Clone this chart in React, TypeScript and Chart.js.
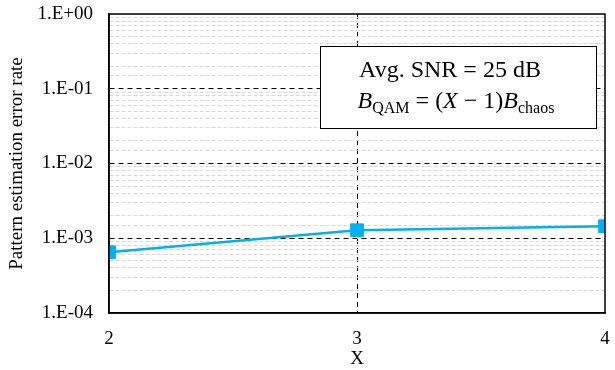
import React, { useEffect, useRef } from "react";
import { Chart, registerables } from "chart.js";

Chart.register(...registerables);

const xValues = [2, 3, 4];
const errorRates = [6.5e-4, 1.28e-3, 1.45e-3];
const xTicks = [2, 3, 4];
const yTitle = "Pattern estimation error rate";
const xTitle = "X";
const boxLine1 = "Avg. SNR = 25 dB";

const isDecade = (v: number) => Math.abs(Math.log10(v) - Math.round(Math.log10(v))) < 1e-6;
const fmtDecade = (v: number) => {
  const e = Math.round(Math.log10(v));
  const s = Math.abs(e).toString().padStart(2, "0");
  return "1.E" + (e < 0 ? "-" : "+") + s;
};

const SERIF = "'Liberation Serif', 'Times New Roman', serif";

const framePlugin = {
  id: "frameAndBox",
  afterDraw(chart: any) {
    const { ctx, chartArea } = chart;
    ctx.save();
    ctx.strokeStyle = "#000";
    ctx.lineWidth = 1.5;
    ctx.setLineDash([]);
    ctx.strokeRect(chartArea.left, chartArea.top, chartArea.right - chartArea.left, chartArea.bottom - chartArea.top);

    // annotation box
    const bx = 320, by = 46, bw = 276, bh = 82;
    ctx.fillStyle = "#fff";
    ctx.fillRect(bx, by, bw, bh);
    ctx.lineWidth = 1;
    ctx.strokeRect(bx + 0.5, by + 0.5, bw, bh);

    ctx.fillStyle = "#000";
    ctx.textBaseline = "alphabetic";
    ctx.textAlign = "left";
    ctx.font = `24px ${SERIF}`;
    const w1 = ctx.measureText(boxLine1).width;
    ctx.fillText(boxLine1, 450 - w1 / 2, 77);

    // formula line
    const parts: [string, string, number][] = [
      ["B", "italic 24px", 0],
      ["QAM", "16px", 5],
      [" = (", "24px", 0],
      ["X", "italic 24px", 0],
      [" \u2212 1)", "24px", 0],
      ["B", "italic 24px", 0],
      ["chaos", "16px", 5],
    ];
    let total = 0;
    for (const [t, f] of parts) {
      ctx.font = `${f} ${SERIF}`;
      total += ctx.measureText(t).width;
    }
    let x = 456 - total / 2;
    for (const [t, f, dy] of parts) {
      ctx.font = `${f} ${SERIF}`;
      ctx.fillText(t, x, 108 + dy);
      x += ctx.measureText(t).width;
    }
    ctx.restore();
  },
};

export default function App() {
  const ref = useRef<HTMLCanvasElement>(null);
  useEffect(() => {
    if (!ref.current) return;
    const chart = new Chart(ref.current, {
      type: "line",
      data: {
        datasets: [
          {
            data: xValues.map((x, i) => ({ x, y: errorRates[i] })),
            borderColor: "#00B0F0",
            backgroundColor: "#00B0F0",
            borderWidth: 2.5,
            pointStyle: "rect",
            pointRadius: 9,
            pointBorderWidth: 1,
            pointBorderColor: "#00B0F0",
            pointBackgroundColor: "#00B0F0",
            tension: 0,
          },
        ],
      },
      options: {
        animation: false,
        responsive: false,
        maintainAspectRatio: false,
        layout: { padding: { top: 0, right: 2, left: 0, bottom: 0 } },
        plugins: { legend: { display: false }, tooltip: { enabled: false } },
        scales: {
          x: {
            type: "linear",
            min: 2,
            max: 4,
            afterBuildTicks: (scale: any) => {
              scale.ticks = xTicks.map((v) => ({ value: v }));
            },
            afterFit: (scale: any) => {
              scale.height = 57;
              scale.paddingRight = 0;
              scale.paddingLeft = 0;
            },
            ticks: {
              font: { family: SERIF, size: 19 },
              color: "#000",
              padding: 15,
              maxRotation: 0,
            },
            grid: {
              drawTicks: false,
              color: (c: any) => (c.tick && (c.tick.value === 2 || c.tick.value === 4) ? "rgba(0,0,0,0)" : "#000"),
              lineWidth: 1,
            },
            border: {
              display: true,
              color: "#000",
              width: 1.5,
              dash: (c: any) => (c.tick ? [5, 4] : []),
            },
            title: {
              display: true,
              text: xTitle,
              font: { family: SERIF, size: 19 },
              color: "#000",
              padding: { top: 0, bottom: 0 },
            },
          },
          y: {
            type: "logarithmic",
            min: 1e-4,
            max: 1,
            afterFit: (scale: any) => {
              scale.width = 109;
              scale.paddingTop = 14;
              scale.paddingBottom = 0;
            },
            ticks: {
              font: { family: SERIF, size: 19 },
              color: "#000",
              padding: 16,
              autoSkip: false,
              callback: (v: any) => (isDecade(Number(v)) ? fmtDecade(Number(v)) : ""),
            },
            grid: {
              drawTicks: false,
              color: (c: any) => {
                if (!c.tick) return "#000";
                const v = c.tick.value;
                if (v >= 1 || v <= 1e-4) return "rgba(0,0,0,0)";
                return isDecade(v) ? "#000" : "#d9d9d9";
              },
              lineWidth: 1,
            },
            border: {
              display: true,
              color: "#000",
              width: 1.5,
              dash: (c: any) => {
                if (!c.tick) return [];
                return isDecade(c.tick.value) ? [5, 4] : [4, 2];
              },
            },
            title: {
              display: true,
              text: yTitle,
              font: { family: SERIF, size: 19 },
              color: "#000",
              padding: { top: 6, bottom: 0 },
            },
          },
        },
      },
      plugins: [framePlugin],
    } as any);
    return () => chart.destroy();
  }, []);
  return (
    <div style={{ position: "fixed", left: 0, top: 0, width: 615, height: 370, background: "#fff" }}>
      <canvas ref={ref} width={615} height={370} style={{ width: 615, height: 370 }} />
    </div>
  );
}
